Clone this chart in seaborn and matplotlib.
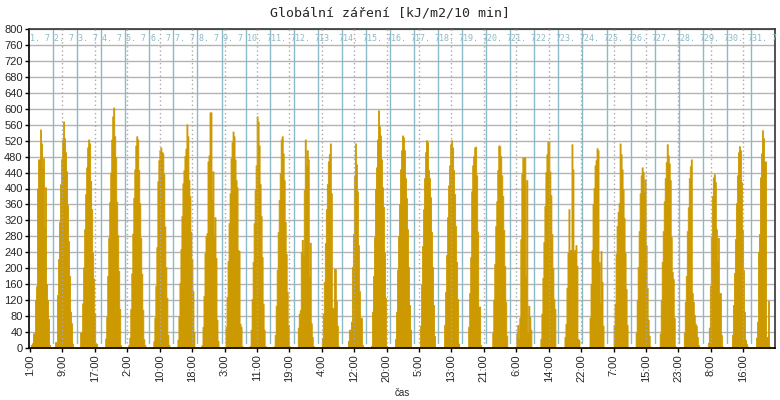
import numpy as np
import pandas as pd
import matplotlib
matplotlib.use("Agg")
import matplotlib.pyplot as plt
import seaborn as sns

# global radiation, July, kJ/m2 per 10 min (peak of each hour)
days = list(range(1, 32))
hours = list(range(2, 21))

radiation = [
    [8, 12, 37, 37, 120, 155, 400, 473, 473, 548, 513, 451, 476, 306, 403, 160, 120, 73, 8],
    [15, 15, 133, 223, 316, 411, 474, 522, 568, 526, 491, 443, 358, 268, 181, 91, 62, 11, 0],
    [0, 39, 39, 112, 202, 298, 386, 453, 503, 523, 513, 419, 348, 238, 174, 86, 12, 10, 0],
    [0, 0, 24, 78, 181, 277, 366, 440, 523, 581, 603, 531, 479, 367, 283, 193, 98, 7, 0],
    [0, 8, 26, 98, 187, 287, 377, 448, 508, 531, 523, 446, 363, 276, 186, 96, 22, 8, 0],
    [0, 0, 17, 76, 156, 253, 418, 471, 496, 503, 492, 488, 436, 305, 203, 126, 33, 8, 0],
    [0, 0, 21, 79, 163, 248, 331, 413, 446, 482, 500, 561, 531, 421, 381, 291, 223, 143, 40],
    [0, 0, 7, 53, 131, 238, 281, 288, 468, 483, 591, 591, 373, 443, 281, 328, 226, 71, 18],
    [0, 0, 53, 128, 218, 313, 388, 476, 516, 543, 531, 473, 421, 403, 246, 243, 61, 53, 5],
    [0, 0, 5, 46, 123, 216, 313, 396, 458, 581, 568, 508, 411, 331, 228, 111, 46, 5, 0],
    [0, 0, 4, 33, 106, 196, 291, 371, 439, 523, 531, 488, 421, 316, 236, 141, 58, 5, 0],
    [0, 0, 51, 86, 95, 241, 271, 233, 396, 523, 458, 496, 473, 178, 264, 62, 28, 5, 0],
    [0, 0, 25, 86, 166, 263, 348, 411, 468, 486, 513, 388, 101, 101, 198, 198, 118, 56, 5],
    [0, 0, 0, 0, 18, 46, 46, 66, 203, 286, 431, 513, 461, 393, 258, 143, 76, 76, 8],
    [0, 0, 0, 5, 91, 181, 278, 398, 453, 523, 596, 556, 533, 473, 403, 354, 239, 126, 5],
    [0, 0, 0, 23, 91, 196, 281, 361, 448, 496, 533, 528, 496, 426, 376, 298, 203, 108, 46],
    [0, 0, 0, 0, 56, 158, 256, 348, 426, 491, 521, 516, 446, 426, 378, 291, 203, 108, 30],
    [0, 0, 0, 0, 58, 141, 233, 328, 408, 458, 511, 521, 503, 446, 386, 306, 216, 123, 11],
    [0, 0, 0, 0, 53, 138, 228, 393, 458, 481, 503, 505, 433, 292, 104, 104, 8, 0, 0],
    [0, 0, 0, 0, 38, 121, 211, 306, 368, 446, 508, 506, 481, 433, 381, 296, 206, 116, 31],
    [0, 0, 0, 0, 36, 58, 26, 76, 273, 436, 478, 478, 478, 181, 421, 38, 106, 78, 46],
    [0, 0, 0, 0, 23, 86, 176, 266, 356, 441, 486, 518, 518, 443, 383, 286, 201, 123, 98],
    [0, 0, 0, 0, 28, 61, 151, 238, 348, 246, 246, 511, 448, 238, 246, 258, 206, 23, 20],
    [0, 0, 0, 0, 0, 76, 161, 246, 361, 401, 458, 471, 501, 496, 216, 113, 243, 166, 56],
    [0, 0, 0, 0, 0, 58, 111, 236, 306, 341, 363, 513, 486, 448, 398, 326, 238, 148, 58],
    [0, 0, 0, 38, 118, 203, 293, 388, 433, 453, 441, 391, 423, 258, 151, 71, 31, 4, 0],
    [0, 0, 0, 36, 118, 216, 293, 368, 426, 466, 511, 483, 463, 421, 278, 191, 173, 76, 4],
    [0, 0, 0, 38, 116, 181, 293, 353, 426, 456, 473, 138, 116, 83, 61, 56, 28, 8, 0],
    [0, 0, 0, 13, 51, 156, 278, 381, 428, 436, 416, 298, 218, 276, 138, 138, 33, 4, 0],
    [0, 0, 0, 33, 108, 188, 273, 363, 433, 491, 506, 496, 416, 296, 196, 91, 21, 11, 4],
    [0, 0, 0, 26, 66, 241, 286, 428, 488, 546, 526, 468, 468, 28, 28, 118, 4, 0, 0],
]

tick_labels = ["1:00", "9:00", "17:00", "2:00", "10:00", "18:00", "3:00", "11:00",
               "19:00", "4:00", "12:00", "20:00", "5:00", "13:00", "21:00", "6:00",
               "14:00", "22:00", "7:00", "15:00", "23:00", "8:00", "16:00"]
tick_step = 32 + 1 / 3  # hours between time labels

rows = []
for d, vals in zip(days, radiation):
    for h, v in zip(hours, vals):
        rows.append(((d - 1) * 24 + h, v))
df = pd.DataFrame(rows, columns=["t", "value"])

sns.set_style("white")
plt.rcParams["font.family"] = ["Liberation Sans", "DejaVu Sans"]

bar_col = "#cc9900"
day_col = "#8db9c6"
grid_col = "#b4b4b4"

fig = plt.figure(figsize=(7.8, 4.0), dpi=100)
ax = fig.add_axes([29 / 780, 52 / 400, 746 / 780, 319 / 400])

sns.histplot(data=df, x="t", weights="value", binwidth=1, binrange=(0, 24 * len(days)),
             element="step", fill=True, color=bar_col, alpha=1, linewidth=0.6,
             edgecolor=bar_col, ax=ax, zorder=2)

ax.set_xlim(0, 24 * len(days))
ax.set_ylim(0, 800)
ax.set_yticks(range(0, 801, 40))
ax.yaxis.grid(True, color=grid_col, linewidth=1)
ax.xaxis.grid(False)
ax.set_axisbelow(True)

for d in days[1:]:
    ax.axvline((d - 1) * 24, ymin=0.015, color=day_col, linewidth=1, zorder=1)

ticks = [1 + k * tick_step for k in range(len(tick_labels))]
for t in ticks[1:]:
    ax.axvline(t, ymin=0.015, color="#aaaaaa", linewidth=1, linestyle=(0, (1, 2)), zorder=3)
ax.set_xticks(ticks)
ax.set_xticklabels(tick_labels, rotation=90)

for d in days:
    ax.text((d - 1) * 24 + 1.2, 775, f"{d}. 7", family="DejaVu Sans Mono", fontsize=6,
            color=day_col, va="center", ha="left", zorder=4)

ax.tick_params(axis="both", labelsize=8, length=3, width=1, color="black", pad=1.5, direction="out")
ax.tick_params(axis="x", bottom=True)
ax.tick_params(axis="y", left=True)
for side in ["left", "bottom"]:
    ax.spines[side].set_color("black")
    ax.spines[side].set_linewidth(1.2)
for side in ["top", "right"]:
    ax.spines[side].set_color("#333333")
    ax.spines[side].set_linewidth(1.2)

ax.set_ylabel("")
ax.set_xlabel("čas", fontsize=7, labelpad=4)
fig.suptitle("Globální záření [kJ/m2/10 min]", family="DejaVu Sans Mono", fontsize=9.5, y=0.985)

fig.savefig("out.png", dpi=100)
